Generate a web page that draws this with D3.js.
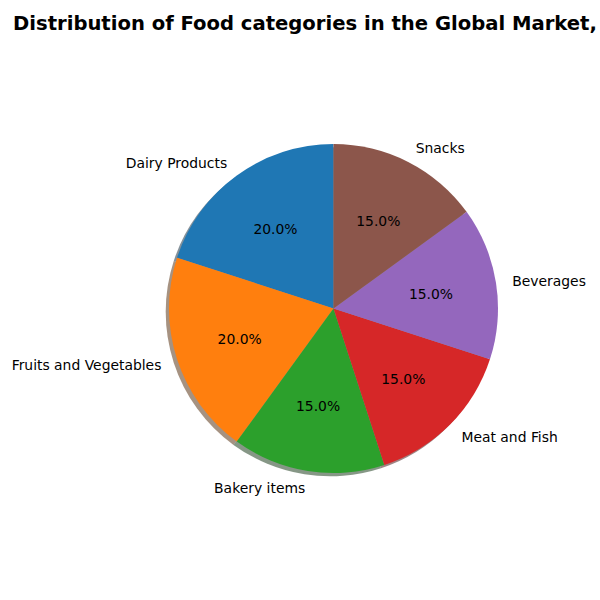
<!DOCTYPE html>
<html>
<head>
<meta charset="utf-8">
<script src="https://cdn.jsdelivr.net/npm/d3@7"></script>
<style>
body{margin:0;background:#fff;}
svg{font-family:"DejaVu Sans",sans-serif;}
</style>
</head>
<body>
<svg id="chart" width="600" height="600"></svg>
<script>
// data
var categories = ["Dairy Products","Fruits and Vegetables","Bakery items","Meat and Fish","Beverages","Snacks"];
var shares = [20,20,15,15,15,15];
var colors = ["#1f77b4","#ff7f0e","#2ca02c","#d62728","#9467bd","#8c564b"];
var title = "Distribution of Food categories in the Global Market,";

var svg = d3.select("#chart");
var cx = 333.5, cy = 308.5, r = 164.5;

svg.append("text").attr("x", 13).attr("y", 30)
	.attr("font-size", "19.6px").attr("font-weight", "bold")
	.text(title);

// matplotlib runs counter-clockwise from 90deg; d3 angles run clockwise from 12 o'clock
var pie = d3.pie().sort(null).value(function(d){return d;})
	.startAngle(0).endAngle(-2*Math.PI);
var arcs = pie(shares);
var arc = d3.arc().innerRadius(0).outerRadius(r);

var g = svg.append("g").attr("transform", "translate("+cx+","+cy+")");

// shadow
g.append("g").attr("transform", "translate(-3.3,3.3)")
	.selectAll("path").data(arcs).enter().append("path")
	.attr("d", arc)
	.attr("fill", function(d,i){
		var c = d3.rgb(colors[i]);
		return d3.rgb(c.r*0.3, c.g*0.3, c.b*0.3);
	})
	.attr("fill-opacity", 0.5);

g.append("g").selectAll("path").data(arcs).enter().append("path")
	.attr("d", arc)
	.attr("fill", function(d,i){return colors[i];});

function mid(d){ return (d.startAngle + d.endAngle)/2; }

// percentage labels
g.selectAll(".pct").data(arcs).enter().append("text")
	.attr("class","pct")
	.attr("x", function(d){return 0.6*r*Math.sin(mid(d));})
	.attr("y", function(d){return -0.6*r*Math.cos(mid(d)) + 0.5;})
	.attr("text-anchor","middle").attr("dominant-baseline","central")
	.attr("font-size","13.9px")
	.text(function(d){return d3.format(".1f")(d.value/d3.sum(shares)*100)+"%";});

// category labels
g.selectAll(".lbl").data(arcs).enter().append("text")
	.attr("class","lbl")
	.attr("x", function(d){return 1.1*r*Math.sin(mid(d));})
	.attr("y", function(d){return -1.1*r*Math.cos(mid(d)) + 0.5;})
	.attr("text-anchor", function(d){return Math.sin(mid(d)) < 0 ? "end" : "start";})
	.attr("dominant-baseline","central")
	.attr("font-size","13.9px")
	.text(function(d,i){return categories[i];});
</script>
</body>
</html>
